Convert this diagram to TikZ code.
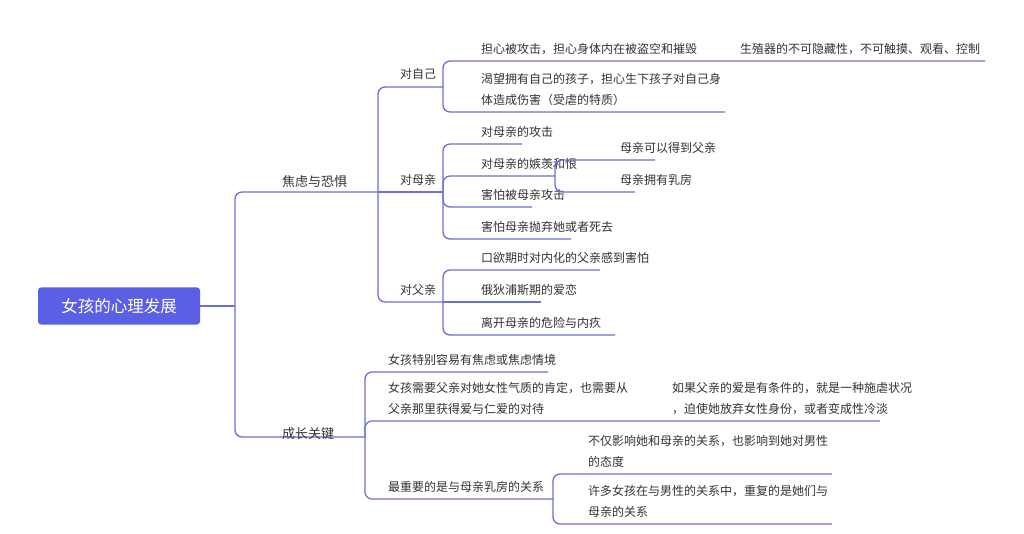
\documentclass[tikz,border=0pt]{standalone}
\usepackage{fontspec}
\setmainfont{Noto Sans CJK SC}
\begin{document}
\begin{tikzpicture}[x=1pt,y=-1pt,
  br/.style={draw=lc,line width=1.3pt,rounded corners=7pt},
  t/.style={anchor=south west,inner sep=0pt,text=tc,font=\fontsize{12}{21}\selectfont,align=left},
  m/.style={anchor=south west,inner sep=0pt,text=tc,font=\fontsize{13}{18}\selectfont}]
\definecolor{lc}{HTML}{6C70D8}
\definecolor{tc}{HTML}{333333}
\definecolor{rc}{HTML}{5B5FE3}
\useasboundingbox (0,0) rectangle (1024,534);
\fill[white] (0,0) rectangle (1024,534);
\node[fill=rc,rounded corners=3pt,minimum width=162pt,minimum height=37pt,text=white,font=\fontsize{16.5}{18}\selectfont] (root) at (119,306) {女孩的心理发展};
% level 1
\coordinate (j0) at (235,306);
\draw[br] (root.east) -- (j0);
\draw[br] (j0) |- (378,192);
\node[m] (a) at (282,188) {焦虑与恐惧};
\draw[br] (j0) |- (365,437);
\node[m] (b) at (282,440) {成长关键};
% 焦虑与恐惧 children
\coordinate (ja) at (378,192);
\draw[br] (ja) |- (443,87);
\node[t] (a1) at (400,80) {对自己};
\draw[br] (ja) -- (443,192);
\node[t] (a2) at (400,186) {对母亲};
\draw[br] (ja) |- (443,302);
\node[t] (a3) at (400,296) {对父亲};
% 对自己
\coordinate (j1) at (443,87);
\draw[br] (j1) |- (985,61);
\node[t] (a11) at (481,55) {担心被攻击，担心身体内在被盗空和摧毁};
\node[t] (a111) at (740,55) {生殖器的不可隐藏性，不可触摸、观看、控制};
\draw[br] (j1) |- (725,112);
\node[t] (a12) at (481,106) {渴望拥有自己的孩子，担心生下孩子对自己身\\体造成伤害（受虐的特质）};
% 对母亲
\coordinate (j2) at (443,192);
\draw[br] (j2) |- (522,144);
\node[t] (a21) at (481,138) {对母亲的攻击};
\draw[br] (j2) |- (555,176);
\node[t] (a22) at (481,170) {对母亲的嫉羡和恨};
\draw[br] (j2) |- (532,207);
\node[t] (a23) at (481,201) {害怕被母亲攻击};
\draw[br] (j2) |- (571,239);
\node[t] (a24) at (481,233) {害怕母亲抛弃她或者死去};
\coordinate (j22) at (555,176);
\draw[br] (j22) |- (655,160);
\node[t] (a221) at (620,154) {母亲可以得到父亲};
\draw[br] (j22) |- (635,192);
\node[t] (a222) at (620,186) {母亲拥有乳房};
% 对父亲
\coordinate (j3) at (443,302);
\draw[br] (j3) |- (600,270);
\node[t] (a31) at (481,264) {口欲期时对内化的父亲感到害怕};
\draw[br] (j3) -- (541,302);
\node[t] (a32) at (481,296) {俄狄浦斯期的爱恋};
\draw[br] (j3) |- (615,335);
\node[t] (a33) at (481,329) {离开母亲的危险与内疚};
% 成长关键
\coordinate (jb) at (365,437);
\draw[br] (jb) |- (548,372);
\node[t] (b1) at (388,366) {女孩特别容易有焦虑或焦虑情境};
\draw[br] (jb) |- (880,421);
\node[t] (b2) at (388,415) {女孩需要父亲对她女性气质的肯定，也需要从\\父亲那里获得爱与仁爱的对待};
\node[t] (b21) at (672,415) {如果父亲的爱是有条件的，就是一种施虐状况\\，迫使她放弃女性身份，或者变成性冷淡};
\draw[br] (jb) |- (553,499);
\node[t] (b3) at (388,493) {最重要的是与母亲乳房的关系};
\coordinate (jb3) at (553,499);
\draw[br] (jb3) |- (832,474);
\node[t] (b31) at (588,468) {不仅影响她和母亲的关系，也影响到她对男性\\的态度};
\draw[br] (jb3) |- (832,524);
\node[t] (b32) at (588,518) {许多女孩在与男性的关系中，重复的是她们与\\母亲的关系};
\end{tikzpicture}
\end{document}
